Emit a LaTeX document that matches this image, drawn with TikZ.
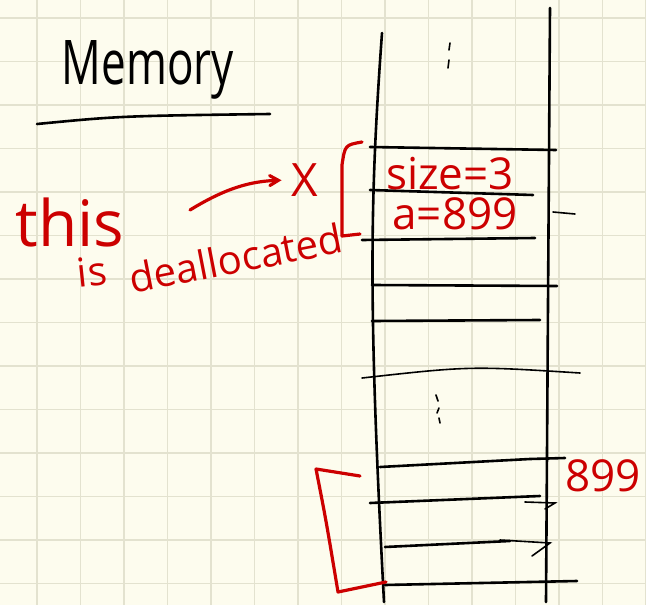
\documentclass[tikz,border=0pt]{standalone}
\usepackage{fontspec}
\setmainfont{Open Sans}
\usetikzlibrary{arrows}
\definecolor{paper}{HTML}{FDFCEE}
\definecolor{gridc}{HTML}{E3E2CF}
\definecolor{ink}{HTML}{CC0000}

\begin{document}
\begin{tikzpicture}[x=1pt,y=-1pt,>=angle 60,
    pen/.style={black,line width=2.6pt,line cap=round,line join=round},
    thin pen/.style={black,line width=1.6pt,line cap=round},
    red pen/.style={ink,line width=3.2pt,line cap=round,line join=round},
    red text/.style={ink,inner sep=0pt},
    grid line/.style={gridc,line width=1.2pt}]

    % paper and grid
    \fill[paper] (0,0) rectangle (646,605);
    \useasboundingbox (0,0) rectangle (646,605);
    \foreach \gx in {37,80.5,...,646} \draw[grid line] (\gx,0) -- (\gx,605);
    \foreach \gy in {18,61.5,...,605} \draw[grid line] (0,\gy) -- (646,\gy);

    % title
    \node[yscale=1.4] (title) at (148,70) {\fontsize{44}{48}\selectfont Memory};
    \draw[pen] (37,124) .. controls (120,116) .. (270,114);

    % memory column
    \draw[pen] (382,33) .. controls (370,200) and (368,300) .. (384,602);
    \draw[pen] (550,8) -- (546,602);
    \draw[thin pen] (450,43) -- (449,50);
    \draw[thin pen] (449,60) -- (448,68);
    \draw[thin pen] (436,395) -- (438,401);
    \draw[thin pen] (439,408) -- (437,413);
    \draw[thin pen] (439,418) -- (440,423);

    % cells
    \draw[pen] (370,147) -- (556,150);
    \draw[pen] (370,190) -- (533,195);
    \draw[thin pen] (553,212) -- (575,214);
    \draw[pen] (362,240) -- (535,238);
    \draw[pen] (372,285) -- (557,286);
    \draw[pen] (372,321) -- (540,320);
    \draw[thin pen] (362,378) .. controls (470,366) .. (580,373);
    \draw[pen] (380,467) -- (530,459) -- (565,458);
    \draw[pen] (370,503) -- (540,496);
    \draw[thin pen] (525,502) -- (555,503) -- (545,509);
    \draw[pen] (385,547) -- (510,541);
    \draw[thin pen] (500,540) -- (550,543) -- (532,556);
    \draw[pen] (385,585) -- (577,581);

    % what is stored
    \node[red text] (size) at (450,174) {\fontsize{44}{46}\selectfont size=3};
    \node[red text] (aval) at (455,214) {\fontsize{44}{46}\selectfont a=899};
    \draw[red pen] (362,142) .. controls (345,145) .. (342,165) -- (342,236) -- (360,234);

    % note
    \node[red text] (xmark) at (305,180) {\fontsize{46}{46}\selectfont X};
    \node[red text] (this) at (70,222) {\fontsize{64}{64}\selectfont this};
    \node[red text,rotate=6] (is) at (92,272) {\fontsize{40}{44}\selectfont is};
    \node[red text,rotate=11] (dealloc) at (236,258) {\fontsize{40}{44}\selectfont deallocated};
    \coordinate (tail) at (190,210);
    \draw[red pen,->,shorten >=10pt] (tail) to[bend left=15] (xmark.west);

    % lower block
    \draw[red pen] (360,476) -- (316,469) .. controls (326,520) .. (338,592) -- (386,582);
    \node[red text] (val) at (603,476) {\fontsize{44}{48}\selectfont 899};
\end{tikzpicture}
\end{document}
